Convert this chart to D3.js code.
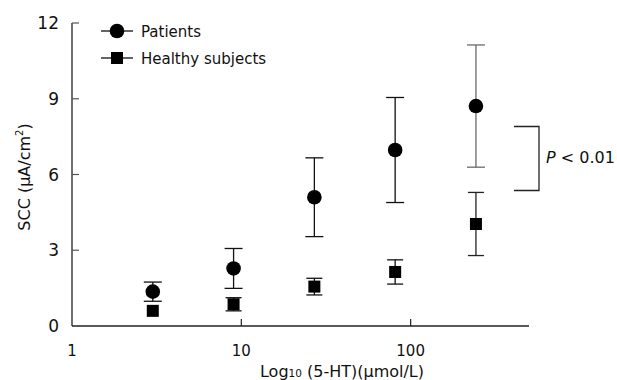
<!DOCTYPE html>
<html>
<head>
<meta charset="utf-8">
<script src="https://cdn.jsdelivr.net/npm/d3@7"></script>
<style>
  body { margin: 0; background: #fff; }
  svg { display: block; font-family: "DejaVu Sans", sans-serif; }
</style>
</head>
<body>
<svg id="chart" width="617" height="380"></svg>
<script>
const doses = [3, 9, 27, 81, 243];
const patientMean = [1.36, 2.28, 5.1, 6.97, 8.71];
const patientSd = [0.38, 0.79, 1.56, 2.08, 2.42];
const healthyMean = [0.6, 0.86, 1.56, 2.14, 4.04];
const healthySd = [0, 0.26, 0.33, 0.48, 1.25];
const yTicks = [0, 3, 6, 9, 12];
const xTicks = [1, 10, 100];

const svg = d3.select("#chart");
const x = d3.scaleLog().domain([1, 500]).range([72, 529]);
const y = d3.scaleLinear().domain([0, 12]).range([326, 23]);

// axes
svg.append("line").attr("x1", 72).attr("x2", 529).attr("y1", y(0)).attr("y2", y(0))
  .attr("stroke", "#222").attr("stroke-width", 1.3);
svg.append("line").attr("x1", 72).attr("x2", 72).attr("y1", y(0)).attr("y2", y(12))
  .attr("stroke", "#222").attr("stroke-width", 1.3);

svg.selectAll(".ytick").data(yTicks.slice(1)).join("line")
  .attr("x1", 72).attr("x2", 79).attr("y1", (d) => y(d)).attr("y2", (d) => y(d))
  .attr("stroke", "#555").attr("stroke-width", 1.2);
svg.selectAll(".ylab").data(yTicks).join("text")
  .attr("x", 59).attr("y", (d) => y(d) + 6).attr("text-anchor", "end")
  .attr("font-size", 17).attr("fill", "#111").text((d) => d);

svg.selectAll(".xtick").data(xTicks.slice(1)).join("line")
  .attr("x1", (d) => x(d)).attr("x2", (d) => x(d)).attr("y1", y(0)).attr("y2", y(0) - 7)
  .attr("stroke", "#222").attr("stroke-width", 1.2);
svg.selectAll(".xlab").data(xTicks).join("text")
  .attr("x", (d) => x(d)).attr("y", 356).attr("text-anchor", "middle")
  .attr("font-size", 15).attr("fill", "#111").text((d) => d);

// axis titles
const xt = svg.append("text").attr("x", 342).attr("y", 377).attr("text-anchor", "middle")
  .attr("font-size", 16).attr("fill", "#111");
xt.append("tspan").text("Log");
xt.append("tspan").attr("font-size", 10.5).text("10");
xt.append("tspan").text(" (5-HT)(μmol/L)");

const yt = svg.append("text").attr("transform", "translate(30,177) rotate(-90)")
  .attr("text-anchor", "middle").attr("font-size", 16).attr("fill", "#111");
yt.append("tspan").text("SCC (μA/cm");
yt.append("tspan").attr("font-size", 10).attr("dy", -7).text("2");
yt.append("tspan").attr("dy", 7).text(")");

// error bars
function errorBars(means, sds, capHalf, colors) {
  const g = svg.append("g");
  doses.forEach((d, i) => {
    if (!sds[i]) return;
    const cx = x(d);
    const top = y(means[i] + sds[i]);
    const bot = y(means[i] - sds[i]);
    const c = colors[i];
    g.append("line").attr("x1", cx).attr("x2", cx).attr("y1", top).attr("y2", bot)
      .attr("stroke", c).attr("stroke-width", 1.3);
    [top, bot].forEach((yy) => {
      g.append("line").attr("x1", cx - capHalf).attr("x2", cx + capHalf).attr("y1", yy).attr("y2", yy)
        .attr("stroke", c).attr("stroke-width", 1.3);
    });
  });
}
errorBars(healthyMean, healthySd, 8, ["#111", "#111", "#111", "#111", "#222"]);
errorBars(patientMean, patientSd, 9, ["#111", "#111", "#111", "#111", "#6a6a6a"]);

svg.selectAll(".hpt").data(doses).join("rect")
  .attr("x", (d) => x(d) - 6).attr("y", (d, i) => y(healthyMean[i]) - 6)
  .attr("width", 12).attr("height", 12).attr("fill", "#000");
svg.selectAll(".ppt").data(doses).join("circle")
  .attr("cx", (d) => x(d)).attr("cy", (d, i) => y(patientMean[i]))
  .attr("r", 7.3).attr("fill", "#000");

// legend
const leg = svg.append("g");
[["Patients", 31, "circle"], ["Healthy subjects", 58, "square"]].forEach(([label, ly, shape]) => {
  leg.append("line").attr("x1", 101).attr("x2", 133).attr("y1", ly).attr("y2", ly)
    .attr("stroke", "#111").attr("stroke-width", 1.3);
  if (shape === "circle") {
    leg.append("circle").attr("cx", 117).attr("cy", ly).attr("r", 7.3).attr("fill", "#000");
  } else {
    leg.append("rect").attr("x", 111).attr("y", ly - 6).attr("width", 12).attr("height", 12).attr("fill", "#000");
  }
  leg.append("text").attr("x", 141).attr("y", ly + 5.5).attr("font-size", 15).attr("fill", "#111").text(label);
});

// significance bracket
svg.append("path").attr("d", "M514,126.5H539V190.5H514").attr("fill", "none")
  .attr("stroke", "#222").attr("stroke-width", 1.3);
const pt = svg.append("text").attr("x", 546).attr("y", 163).attr("font-size", 16).attr("fill", "#111");
pt.append("tspan").attr("font-style", "italic").text("P");
pt.append("tspan").text(" < 0.01");
</script>
</body>
</html>
